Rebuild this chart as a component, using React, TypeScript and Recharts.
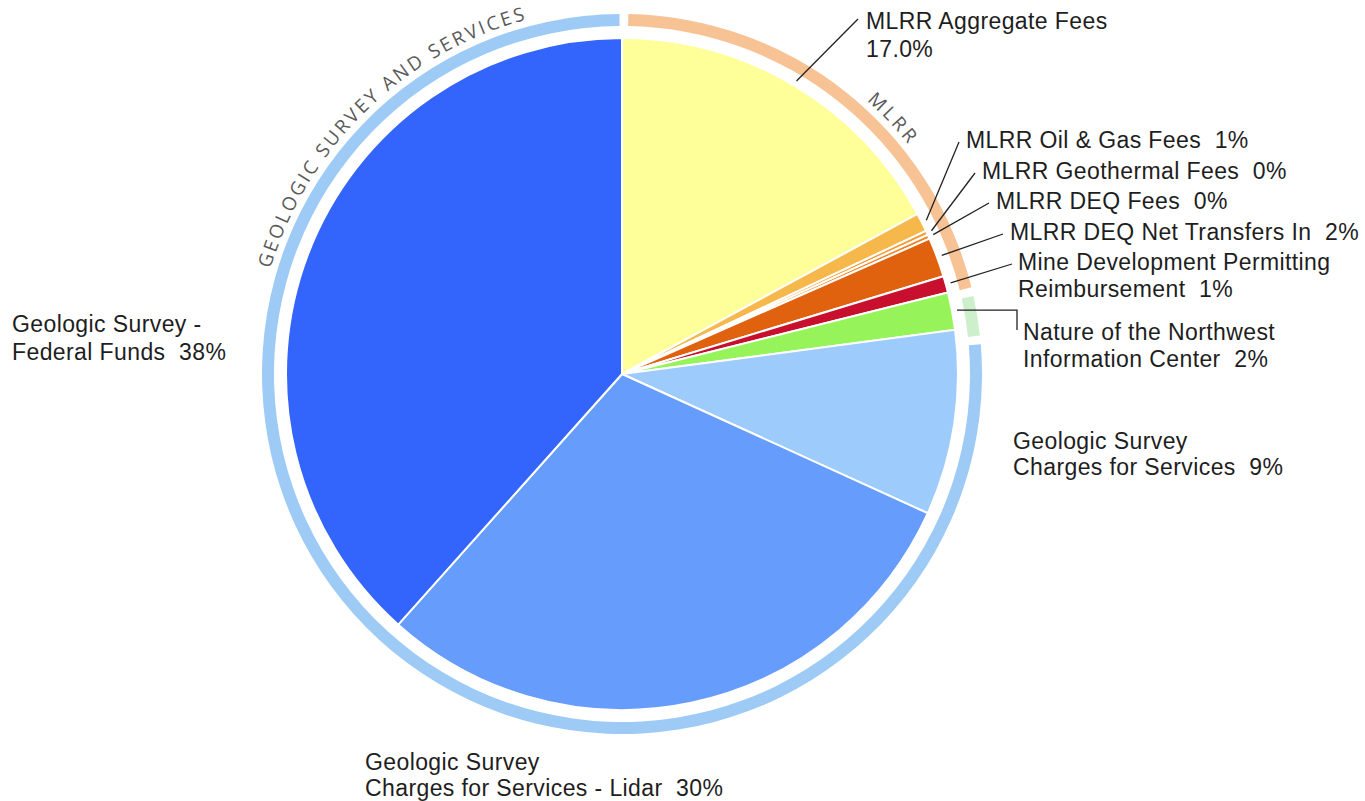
import React from 'react';
import { PieChart, Pie, Cell } from 'recharts';

// ---- data ----
const categories: string[] = [
  'MLRR Aggregate Fees',
  'MLRR Oil & Gas Fees',
  'MLRR Geothermal Fees',
  'MLRR DEQ Fees',
  'MLRR DEQ Net Transfers In',
  'Mine Development Permitting Reimbursement',
  'Nature of the Northwest Information Center',
  'Geologic Survey Charges for Services',
  'Geologic Survey Charges for Services - Lidar',
  'Geologic Survey - Federal Funds',
];
const values: number[] = [17.1, 0.9, 0.2, 0.2, 1.9, 0.8, 1.8, 8.9, 29.8, 38.4];
const groupOf: string[] = ['MLRR', 'MLRR', 'MLRR', 'MLRR', 'MLRR', 'MLRR', 'Nature', 'GS', 'GS', 'GS'];
const groupNames: string[] = ['MLRR', 'Nature', 'GS'];
const labelTexts: string[][] = [
  ['MLRR Aggregate Fees', '17.0%'],
  ['MLRR Oil & Gas Fees  1%'],
  ['MLRR Geothermal Fees  0%'],
  ['MLRR DEQ Fees  0%'],
  ['MLRR DEQ Net Transfers In  2%'],
  ['Mine Development Permitting', 'Reimbursement  1%'],
  ['Nature of the Northwest', 'Information Center  2%'],
  ['Geologic Survey', 'Charges for Services  9%'],
  ['Geologic Survey', 'Charges for Services - Lidar  30%'],
  ['Geologic Survey -', 'Federal Funds  38%'],
];
const ringTitles: string[] = ['MLRR', '', 'GEOLOGIC SURVEY AND SERVICES'];

// ---- styles / layout ----
const sliceColors = ['#FFFF99', '#F6B84A', '#F29A30', '#EE8526', '#E0620F', '#C8102E', '#96F45A', '#9DCBFB', '#669CFC', '#3364FB'];
const ringColors = ['#F8C394', '#CDEFCB', '#9DCBF5'];
const CX = 622;
const CY = 374;
const R = 336;
const RING_IN = 348;
const RING_OUT = 360;
const labelLayout: { x: number; y: number; lh: number; end: number[] | null; elbow?: boolean }[] = [
  { x: 866, y: 29, lh: 28, end: [858, 19] },
  { x: 966, y: 148, lh: 27, end: [959, 142] },
  { x: 982, y: 179, lh: 27, end: [975, 173] },
  { x: 996, y: 209, lh: 27, end: [989, 203] },
  { x: 1010, y: 240, lh: 27, end: [1003, 234] },
  { x: 1018, y: 270, lh: 27, end: [1012, 264] },
  { x: 1023, y: 340, lh: 27, end: [1017, 330], elbow: true },
  { x: 1013, y: 449, lh: 26, end: null },
  { x: 365, y: 770, lh: 26, end: null },
  { x: 12, y: 332, lh: 28, end: null },
];
// ring title placement: center compass angle (deg, clockwise from north) and arc length
const ringTitleLayout = [
  { center: 46.5, length: 60 },
  { center: 0, length: 0 },
  { center: -44.3, length: 372 },
];

const mainData = categories.map((name, i) => ({ name, value: values[i] }));
const ringData = groupNames.map((g) => ({
  name: g,
  value: values.reduce((s, v, i) => (groupOf[i] === g ? s + v : s), 0),
}));

const RAD = Math.PI / 180;

const renderLabel = (props: any) => {
  const { cx, cy, midAngle, outerRadius, index } = props;
  const lay = labelLayout[index];
  const lines = labelTexts[index];
  const sr = outerRadius + 5;
  const sx = cx + sr * Math.cos(-midAngle * RAD);
  const sy = cy + sr * Math.sin(-midAngle * RAD);
  let line: React.ReactNode = null;
  if (lay.end) {
    if (lay.elbow) {
      line = (
        <polyline
          points={`${sx},${sy} ${lay.end[0]},${sy} ${lay.end[0]},${lay.end[1]}`}
          fill="none"
          stroke="#222"
          strokeWidth={1.3}
        />
      );
    } else {
      line = <line x1={sx} y1={sy} x2={lay.end[0]} y2={lay.end[1]} stroke="#222" strokeWidth={1.3} />;
    }
  }
  return (
    <g key={`lbl-${index}`}>
      {line}
      <text
        x={lay.x}
        y={lay.y}
        fill="#1e1e1e"
        fontSize={23}
        fontFamily="'Liberation Sans', Arial, sans-serif"
        letterSpacing={0.4}
        textAnchor="start"
        style={{ whiteSpace: 'pre' }}
      >
        {lines.map((t, k) => (
          <tspan key={k} x={lay.x} y={lay.y + k * lay.lh}>
            {t}
          </tspan>
        ))}
      </text>
    </g>
  );
};

const pt = (deg: number, r: number) => [CX + r * Math.sin(deg * RAD), CY - r * Math.cos(deg * RAD)];

const RingTitles = () => {
  const rr = 367;
  return (
    <g>
      {ringTitles.map((t, i) => {
        if (!t) return null;
        const lay = ringTitleLayout[i];
        const half = (lay.length / rr) / RAD / 2 + 20;
        const a0 = lay.center - half;
        const a1 = lay.center + half;
        const p0 = pt(a0, rr);
        const p1 = pt(a1, rr);
        const id = `ringpath-${i}`;
        return (
          <g key={id}>
            <defs>
              <path id={id} d={`M ${p0[0]} ${p0[1]} A ${rr} ${rr} 0 0 1 ${p1[0]} ${p1[1]}`} fill="none" />
            </defs>
            <text
              fill="#5a5a5a"
              fontSize={19}
              fontFamily="'Open Sans', 'DejaVu Sans', sans-serif"
              textAnchor="middle"
            >
              <textPath href={`#${id}`} startOffset="50%" textLength={lay.length} lengthAdjust="spacing">
                {t}
              </textPath>
            </text>
          </g>
        );
      })}
    </g>
  );
};

export default function App() {
  return (
    <div style={{ position: 'absolute', left: 0, top: 0, width: 1365, height: 801, background: '#fff' }}>
      <PieChart width={1365} height={801} margin={{ top: 0, right: 0, bottom: 0, left: 0 }}>
        <Pie
          data={ringData}
          dataKey="value"
          nameKey="name"
          cx={CX}
          cy={CY}
          innerRadius={RING_IN}
          outerRadius={RING_OUT}
          startAngle={89}
          endAngle={-271}
          paddingAngle={1.4}
          stroke="none"
          isAnimationActive={false}
        >
          {ringData.map((d, i) => (
            <Cell key={d.name} fill={ringColors[i]} />
          ))}
        </Pie>
        <Pie
          data={mainData}
          dataKey="value"
          nameKey="name"
          cx={CX}
          cy={CY}
          innerRadius={0}
          outerRadius={R}
          startAngle={90}
          endAngle={-270}
          stroke="#ffffff"
          strokeWidth={2}
          label={renderLabel}
          labelLine={false}
          isAnimationActive={false}
        >
          {mainData.map((d, i) => (
            <Cell key={d.name} fill={sliceColors[i]} />
          ))}
        </Pie>
        <RingTitles />
      </PieChart>
    </div>
  );
}
